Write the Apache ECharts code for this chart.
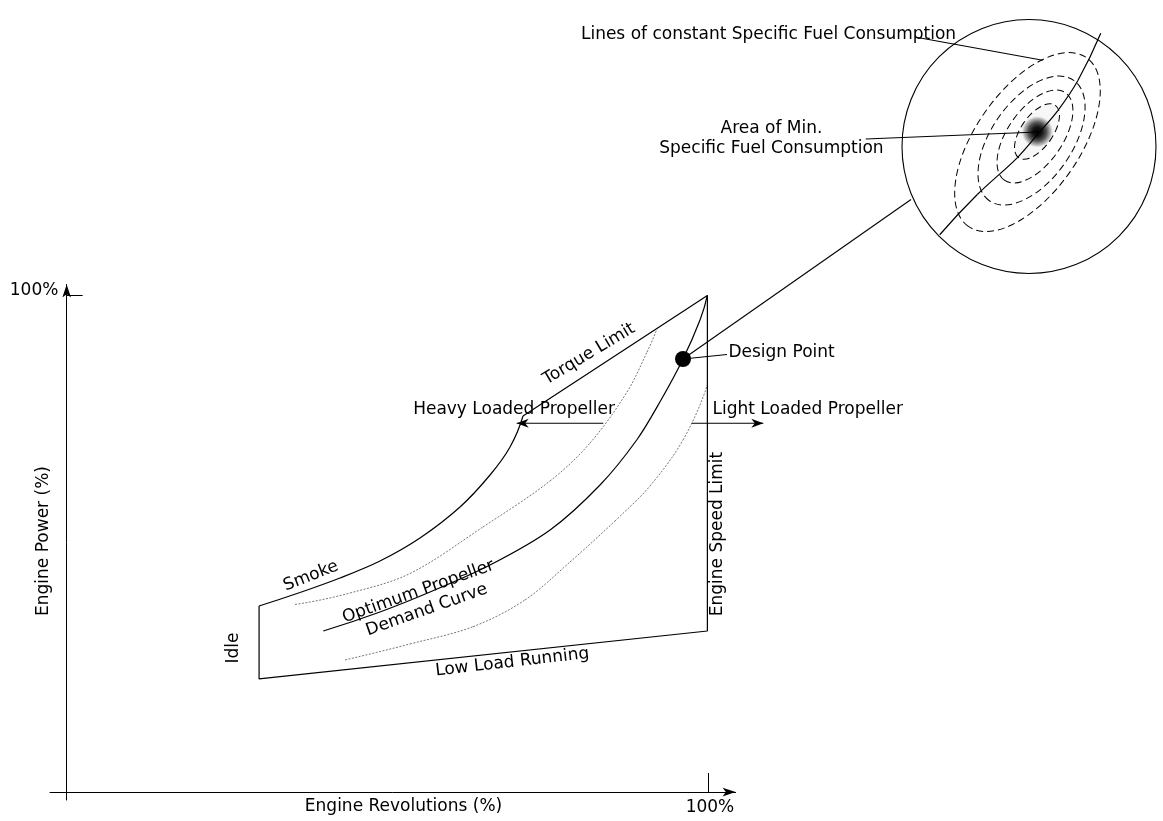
<!DOCTYPE html>
<html>
<head>
<meta charset="utf-8">
<script src="https://cdn.jsdelivr.net/npm/echarts@6/dist/echarts.min.js"></script>
<style>
  html, body { margin: 0; padding: 0; background: #fff; }
  #chart { width: 1163px; height: 821px; }
</style>
</head>
<body>
<div id="chart"></div>
<script>
// ---- Engine operating envelope (x: engine revolutions %, y: engine power %) ----
const envelope = [[30.0, 37.47], [30.0, 22.78], [99.9, 32.43], [99.9, 100], [71.15, 75.72]];
const smokeLimit = [[29.99, 37.47], [36.38, 40.18], [42.61, 43.10], [48.85, 46.53], [55.09, 51.16],
  [61.33, 57.40], [66.01, 63.84], [69.13, 69.48], [71.15, 75.72]];
const propellerDemand = [[40.01, 32.43], [48.85, 36.26], [56.65, 40.28], [66.01, 45.72], [75.37, 52.77],
  [83.16, 61.83], [88.88, 70.89], [92.67, 78.94], [96.10, 87.20], [98.75, 95.05], [99.9, 100]];
const heavyPropeller = [[35.60, 37.77], [44.18, 40.08], [53.53, 44.01], [64.91, 53.37], [75.36, 62.63],
  [81.60, 70.28], [87.37, 80.55], [90.49, 88.60], [92.0, 93.13]];
const lightPropeller = [[43.40, 26.60], [53.53, 29.82], [63.36, 33.30], [71.46, 38.68], [78.48, 46.33],
  [85.49, 54.58], [90.95, 61.63], [96.10, 70.89], [99.89, 81.96]];
const designPoint = [96.1, 87.2];
// [fromX, fromY, toX, toY]
const loadArrows = [[83.67, 74.25, 70.17, 74.25], [97.46, 74.25, 108.62, 74.25]];
const leaders = [[96.1, 87.2, 102.96, 88.1], [96.1, 87.2, 131.65, 119.31]];
const axisMarks = [100];
// [text, x, y, angle in degrees, alignment]
const labels = [
  ['Torque Limit', 81.44, 88.2, 31, 'center'],
  ['Heavy Loaded Propeller', 69.75, 77.1, 0, 'center'],
  ['Light Loaded Propeller', 100.70, 77.1, 0, 'left'],
  ['Design Point', 103.18, 88.46, 0, 'left'],
  ['Engine Speed Limit', 101.48, 51.96, 90, 'center'],
  ['Idle', 25.95, 29.0, 90, 'center'],
  ['Smoke', 38.09, 43.5, 21.5, 'center'],
  ['Optimum Propeller', 54.83, 40.35, 19.5, 'center'],
  ['Demand Curve', 56.14, 36.66, 19.5, 'center'],
  ['Low Load Running', 69.48, 26.13, 6.5, 'center']
];
const axisTitles = [
  ['Engine Revolutions (%)', 52.52, -2.90, 0, 'center'],
  ['Engine Power (%)', -3.54, 50.55, 90, 'center'],
  [axisMarks[0] + '%', 100.3, -3.19, 0, 'center'],
  [axisMarks[0] + '%', -1.29, 100.95, 0, 'right']
];

// ---- Magnified view around the design point (unit circle) ----
const insetCurve = [[-0.703, -0.695], [-0.407, -0.378], [-0.091, -0.087], [0.081, 0.111],
  [0.227, 0.283], [0.385, 0.520], [0.565, 0.891]];
// [centerX, centerY, radiusAlong, radiusAcross]
const sfcContours = [[-0.012, 0.035, 0.811, 0.409], [0.020, 0.047, 0.579, 0.317],
  [0.047, 0.079, 0.420, 0.216], [0.063, 0.118, 0.252, 0.125]];
const sfcMinimum = [[0.066, 0.116, 0.25, 0.125]];
const insetLeaders = [[-0.898, 0.862, 0.108, 0.679], [-1.286, 0.059, 0.071, 0.114]];
const insetLabels = [
  ['Lines of constant Specific Fuel Consumption', -3.528, 0.878, 0, 'left'],
  ['Area of Min.', -2.028, 0.138, 0, 'center'],
  ['Specific Fuel Consumption', -2.028, -0.020, 0, 'center']
];

const FONT = 'DejaVu Sans';
const FS = 17;
const INK = '#000';
const TILT = 55 * Math.PI / 180;

function textSeries(list, axisIndex) {
  return {
    type: 'custom', xAxisIndex: axisIndex, yAxisIndex: axisIndex, silent: true,
    data: list.map(l => [l[1], l[2]]),
    renderItem(params, api) {
      const item = list[params.dataIndex];
      const p = api.coord([api.value(0), api.value(1)]);
      return {
        type: 'text', x: p[0], y: p[1], rotation: item[3] * Math.PI / 180,
        style: {
          text: item[0], fill: INK, font: FS + 'px "' + FONT + '"',
          align: item[4], verticalAlign: 'middle',
          textAlign: item[4], textVerticalAlign: 'middle'
        }
      };
    }
  };
}

function segmentSeries(list, axisIndex, withHead) {
  return {
    type: 'custom', xAxisIndex: axisIndex, yAxisIndex: axisIndex, silent: true,
    data: list,
    renderItem(params, api) {
      const a = api.coord([api.value(0), api.value(1)]);
      const b = api.coord([api.value(2), api.value(3)]);
      const children = [{
        type: 'line', shape: { x1: a[0], y1: a[1], x2: b[0], y2: b[1] },
        style: { stroke: INK, lineWidth: 1.1 }
      }];
      if (withHead) {
        const ang = Math.atan2(b[1] - a[1], b[0] - a[0]);
        const L = 12, W = 4.5, N = 8.5;
        const ux = Math.cos(ang), uy = Math.sin(ang);
        const px = -uy, py = ux;
        children.push({
          type: 'polygon',
          shape: { points: [
            [b[0], b[1]],
            [b[0] - ux * L + px * W, b[1] - uy * L + py * W],
            [b[0] - ux * N, b[1] - uy * N],
            [b[0] - ux * L - px * W, b[1] - uy * L - py * W]
          ] },
          style: { fill: INK }
        });
      }
      return { type: 'group', children };
    }
  };
}

// Smooth curve through the given points: one cubic segment per point pair,
// tangents taken from the neighbouring points in screen space.
function splineSeries(points, axisIndex, lineStyle) {
  const unit = (v) => { const l = Math.hypot(v[0], v[1]) || 1; return [v[0] / l, v[1] / l]; };
  return {
    type: 'custom', xAxisIndex: axisIndex, yAxisIndex: axisIndex, silent: true,
    data: points,
    renderItem(params, api) {
      const n = points.length;
      const i = params.dataIndex;
      if (i >= n - 1) return null;
      const P = points.map(p => api.coord(p));
      const tangent = (k) => {
        if (k > 0 && k < n - 1) return unit([P[k + 1][0] - P[k - 1][0], P[k + 1][1] - P[k - 1][1]]);
        if (k === 0) {
          const u = unit([P[1][0] - P[0][0], P[1][1] - P[0][1]]);
          const t = n > 2 ? tangent(1) : u;
          return unit([2 * u[0] - t[0], 2 * u[1] - t[1]]);
        }
        const u = unit([P[n - 1][0] - P[n - 2][0], P[n - 1][1] - P[n - 2][1]]);
        const t = n > 2 ? tangent(n - 2) : u;
        return unit([2 * u[0] - t[0], 2 * u[1] - t[1]]);
      };
      const a = P[i], b = P[i + 1];
      const d = Math.hypot(b[0] - a[0], b[1] - a[1]) / 3;
      const ta = tangent(i), tb = tangent(i + 1);
      return {
        type: 'bezierCurve',
        shape: {
          x1: a[0], y1: a[1], x2: b[0], y2: b[1],
          cpx1: a[0] + ta[0] * d, cpy1: a[1] + ta[1] * d,
          cpx2: b[0] - tb[0] * d, cpy2: b[1] - tb[1] * d
        },
        style: Object.assign({ fill: 'none' }, lineStyle)
      };
    }
  };
}

const solid = { stroke: INK, lineWidth: 1.2 };
const fine = { stroke: '#777', lineWidth: 1, lineDash: [2, 1.5] };

const chart = echarts.init(document.getElementById('chart'), null, { renderer: 'canvas' });
chart.setOption({
  animation: false,
  backgroundColor: '#fff',
  grid: [
    { left: 50, top: 284.5, width: 685.6, height: 515.5, outerBoundsMode: 'none' },
    { left: 902, top: 19.5, width: 254, height: 254, outerBoundsMode: 'none' }
  ],
  xAxis: [{
    type: 'value', gridIndex: 0, min: -2.6, max: 104.3,
    axisLine: { show: true, onZero: true, symbol: ['none', 'arrow'], symbolSize: [6.5, 13],
      lineStyle: { color: INK, width: 1 } },
    axisTick: { show: true, inside: true, length: 19, customValues: axisMarks, lineStyle: { color: INK } },
    axisLabel: { show: false },
    splitLine: { show: false }
  }, {
    type: 'value', gridIndex: 1, min: -1, max: 1, show: false
  }],
  yAxis: [{
    type: 'value', gridIndex: 0, min: -1.6, max: 102.2,
    axisLine: { show: true, onZero: true, symbol: ['none', 'arrow'], symbolSize: [6.5, 13],
      lineStyle: { color: INK, width: 1 } },
    axisTick: { show: true, inside: true, length: 16, customValues: axisMarks, lineStyle: { color: INK } },
    axisLabel: { show: false },
    splitLine: { show: false }
  }, {
    type: 'value', gridIndex: 1, min: -1, max: 1, show: false
  }],
  series: [
    {
      type: 'line', xAxisIndex: 0, yAxisIndex: 0, data: envelope, symbol: 'none', silent: true,
      clip: false, lineStyle: { color: INK, width: 1.2 }
    },
    splineSeries(smokeLimit, 0, solid),
    splineSeries(propellerDemand, 0, solid),
    splineSeries(heavyPropeller, 0, fine),
    splineSeries(lightPropeller, 0, fine),
    segmentSeries(loadArrows, 0, true),
    segmentSeries(leaders, 0, false),
    {
      type: 'scatter', xAxisIndex: 0, yAxisIndex: 0, data: [designPoint], symbolSize: 16,
      itemStyle: { color: INK, opacity: 1 }, silent: true, z: 5
    },
    textSeries(labels, 0),
    textSeries(axisTitles, 0),
    // magnified view
    {
      type: 'custom', xAxisIndex: 1, yAxisIndex: 1, silent: true, data: [[0, 0, 1]],
      renderItem(params, api) {
        const c = api.coord([api.value(0), api.value(1)]);
        const r = api.size([api.value(2), 0])[0];
        return { type: 'circle', shape: { cx: c[0], cy: c[1], r }, style: { fill: 'none', stroke: INK, lineWidth: 1.1 } };
      }
    },
    {
      type: 'custom', xAxisIndex: 1, yAxisIndex: 1, silent: true, data: sfcMinimum,
      renderItem(params, api) {
        const c = api.coord([api.value(0), api.value(1)]);
        const s = api.size([api.value(2), api.value(3)]);
        return {
          type: 'ellipse', x: c[0], y: c[1], rotation: TILT,
          shape: { cx: 0, cy: 0, rx: s[0], ry: s[1] },
          style: { fill: new echarts.graphic.RadialGradient(0.5, 0.5, 0.5, [
            { offset: 0, color: 'rgba(0,0,0,1)' },
            { offset: 0.3, color: 'rgba(20,20,20,1)' },
            { offset: 0.6, color: 'rgba(90,90,90,1)' },
            { offset: 0.85, color: 'rgba(170,170,170,0.8)' },
            { offset: 1, color: 'rgba(230,230,230,0.3)' }
          ]) }
        };
      }
    },
    {
      type: 'custom', xAxisIndex: 1, yAxisIndex: 1, silent: true, data: sfcContours,
      renderItem(params, api) {
        const c = api.coord([api.value(0), api.value(1)]);
        const s = api.size([api.value(2), api.value(3)]);
        return {
          type: 'ellipse', x: c[0], y: c[1], rotation: TILT,
          shape: { cx: 0, cy: 0, rx: s[0], ry: s[1] },
          style: { fill: 'none', stroke: INK, lineWidth: 1, lineDash: [7, 4] }
        };
      }
    },
    splineSeries(insetCurve, 1, solid),
    segmentSeries(insetLeaders, 1, false),
    textSeries(insetLabels, 1)
  ]
});
</script>
</body>
</html>
